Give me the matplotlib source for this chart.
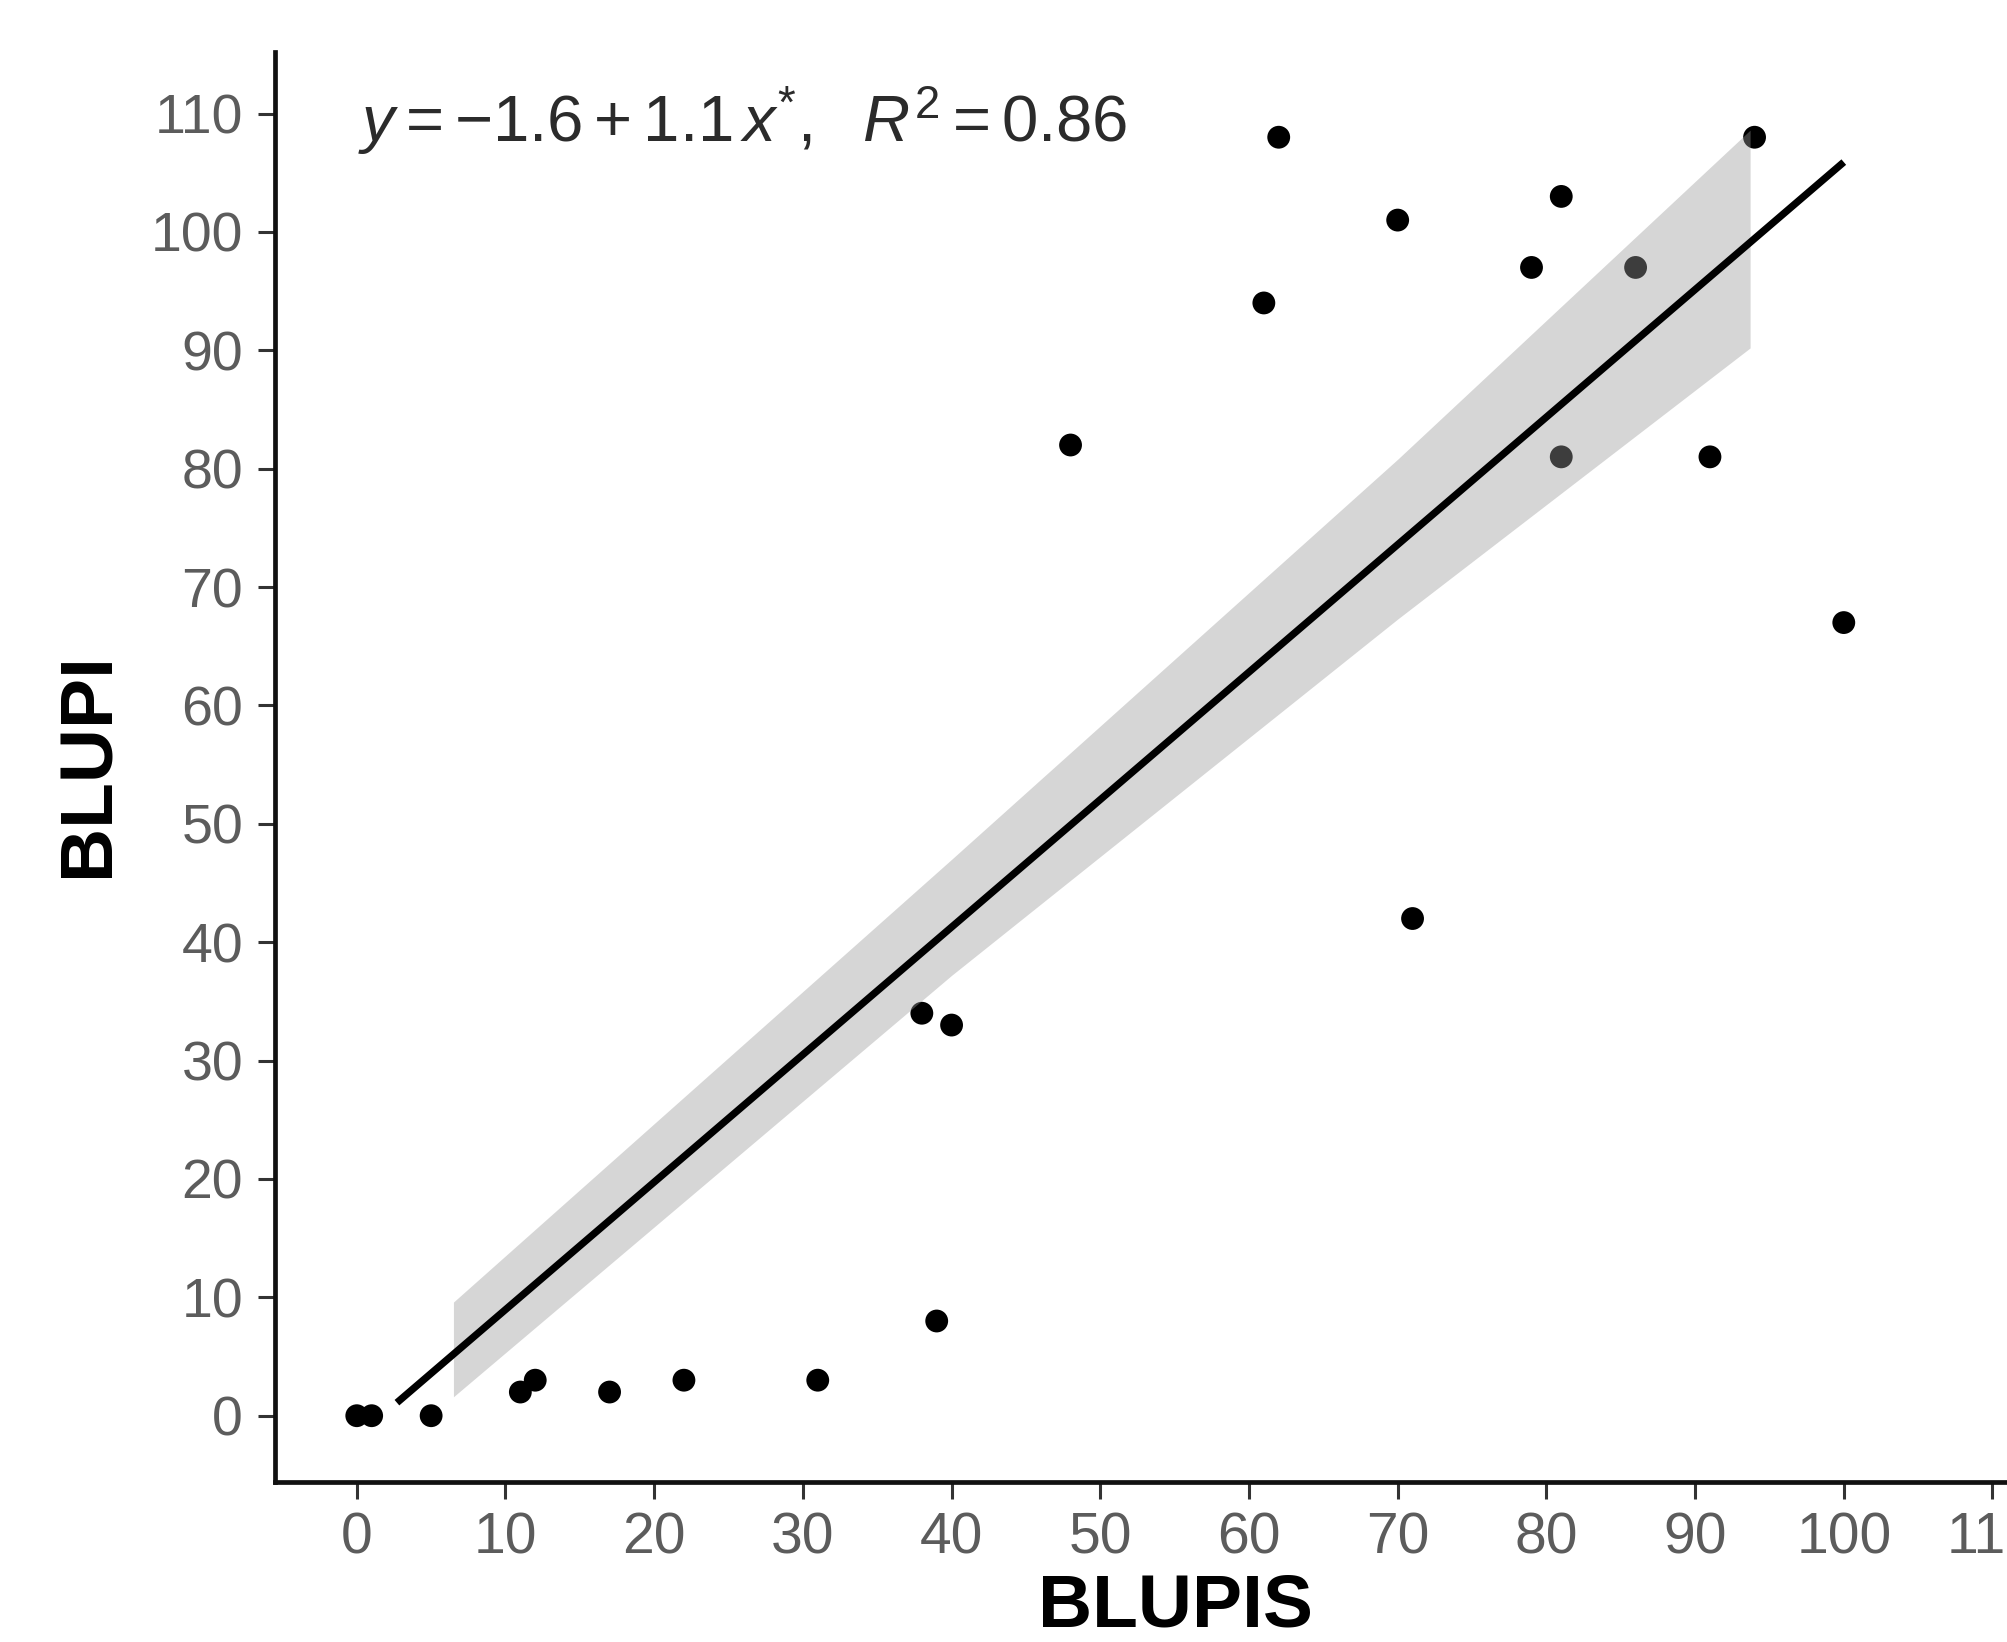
import matplotlib
matplotlib.use("Agg")
import matplotlib.pyplot as plt

# ---- data ----
blupis = [0, 1, 5, 11, 12, 17, 22, 31, 39, 38, 40, 48, 61, 62, 70, 71, 79, 81, 81, 86, 91, 94, 100]
blupi = [0, 0, 0, 2, 3, 2, 3, 3, 8, 34, 33, 82, 94, 108, 101, 42, 97, 103, 81, 97, 81, 108, 67]

fit_x = [2.7, 100.0]
fit_y = [1.1, 105.9]

band_x = [6.5, 40.0, 70.0, 93.7]
band_lo = [1.6, 37.2, 67.3, 90.2]
band_hi = [9.6, 47.0, 80.8, 108.6]

x_ticks = [0, 10, 20, 30, 40, 50, 60, 70, 80, 90, 100, 110]
y_ticks = [0, 10, 20, 30, 40, 50, 60, 70, 80, 90, 100, 110]

equation = r"$y = -1.6 + 1.1\,x^{*},\ \ R^{2} = 0.86$"
x_title = "BLUPIS"
y_title = "BLUPI"

# ---- style ----
plt.rcParams['font.family'] = ['Liberation Sans', 'DejaVu Sans']
plt.rcParams['mathtext.fontset'] = 'custom'
plt.rcParams['mathtext.rm'] = 'Liberation Sans'
plt.rcParams['mathtext.it'] = 'Liberation Sans:italic'
plt.rcParams['mathtext.bf'] = 'Liberation Sans:bold'

W, H = 2008, 1642
fig = plt.figure(figsize=(W / 100, H / 100), dpi=100)
fig.patch.set_facecolor('white')

ax_left = 275 / W
ax_bottom = (H - 1482) / H
ax_width = 121 * 14.87 / W
ax_height = (1482 - 52) / H
ax = fig.add_axes([ax_left, ax_bottom, ax_width, ax_height])
ax.set_xlim(-5.5, 115.5)
ax.set_ylim(-5.6, 115.2)

ax.scatter(blupis, blupi, s=270, color='black', edgecolors='none', zorder=2)
ax.fill_between(band_x, band_lo, band_hi, color='#999999', alpha=0.4, lw=0, zorder=3)
ax.plot(fit_x, fit_y, color='black', lw=5.2, solid_capstyle='butt', zorder=4)

for s in ['top', 'right']:
    ax.spines[s].set_visible(False)
for s in ['left', 'bottom']:
    ax.spines[s].set_linewidth(3.4)
    ax.spines[s].set_color('#111111')

ax.set_xticks(x_ticks)
ax.set_yticks(y_ticks)
ax.tick_params(axis='both', length=12, width=2.2, color='#333333', labelcolor='#5c5c5c')
ax.tick_params(axis='x', labelsize=41, pad=9)
ax.tick_params(axis='y', labelsize=40, pad=11)

ax.text(0.1, 107.6, equation, fontsize=47, color='#2b2b2b', ha='left', va='baseline', zorder=5)

fig.text(1175 / W, 16 / H, x_title, fontsize=54, fontweight='bold', ha='center', va='baseline', color='black')
fig.text(89 / W, (H - 765) / H, y_title, fontsize=54, fontweight='bold', rotation=90,
         ha='center', va='center', color='black')

fig.savefig('out.png', dpi=100, facecolor='white')
